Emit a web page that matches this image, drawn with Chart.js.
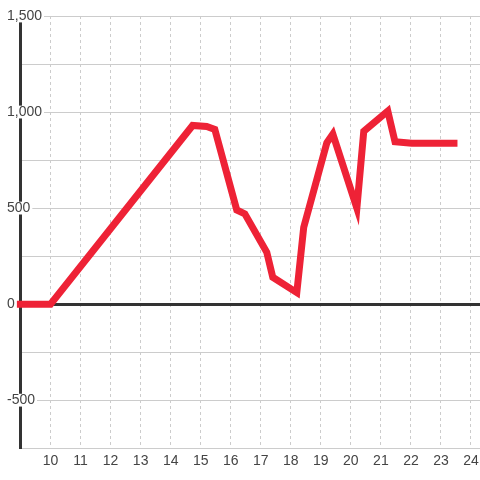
<!DOCTYPE html>
<html>
<head>
<meta charset="utf-8">
<script src="https://cdn.jsdelivr.net/npm/chart.js@4"></script>
<style>
html,body{margin:0;padding:0;background:#fff;}
canvas{display:block;}
</style>
</head>
<body>
<canvas id="c" width="480" height="480"></canvas>
<script>
const xValues = [8.88, 10, 14.73, 15.2, 15.47, 16.2, 16.47, 17.2, 17.4, 18.2, 18.43, 19.2, 19.4, 20.2, 20.43, 21.23, 21.47, 22.03, 23.55];
const yValues = [0, 0, 930, 925, 910, 490, 470, 270, 140, 60, 400, 840, 885, 500, 900, 1005, 845, 838, 838];
const xTicks = [10, 11, 12, 13, 14, 15, 16, 17, 18, 19, 20, 21, 22, 23, 24];
const yTicks = [-750, -500, -250, 0, 250, 500, 750, 1000, 1250, 1500];
const yLabelTicks = [-500, 0, 500, 1000, 1500];

const points = xValues.map((x, i) => ({x: x, y: yValues[i]}));
const labelFont = {family: '"Liberation Sans", Arial, sans-serif', size: 14};

new Chart(document.getElementById('c'), {
  type: 'line',
  data: {
    datasets: [{
      data: points,
      borderColor: '#ee2236',
      borderWidth: 7,
      pointRadius: 0,
      tension: 0,
      borderJoinStyle: 'miter',
      borderCapStyle: 'butt',
      fill: false,
      clip: false
    }]
  },
  options: {
    responsive: false,
    animation: false,
    layout: {padding: {left: 20.5, top: 16, right: 0, bottom: 5}},
    plugins: {legend: {display: false}, tooltip: {enabled: false}},
    scales: {
      x: {
        type: 'linear',
        min: 9,
        max: 24.3,
        afterBuildTicks: s => { s.ticks = xTicks.map(v => ({value: v})); },
        afterFit: s => { s.paddingLeft = 0; s.paddingRight = 0; },
        grid: {color: '#cccccc', lineWidth: 1, drawTicks: false},
        border: {display: false, dash: [3, 3]},
        ticks: {color: '#444', font: labelFont, padding: 5, maxRotation: 0, autoSkip: false}
      },
      y: {
        type: 'linear',
        min: -750,
        max: 1500,
        afterBuildTicks: s => { s.ticks = yTicks.map(v => ({value: v})); },
        afterFit: s => { s.width = 0; s.paddingTop = 0; s.paddingBottom = 0; },
        grid: {
          drawTicks: false,
          color: ctx => (ctx.tick && ctx.tick.value === 0) ? '#333333' : '#cccccc',
          lineWidth: ctx => (ctx.tick && ctx.tick.value === 0) ? 3 : 1
        },
        border: {display: true, color: '#333333', width: 3},
        ticks: {
          mirror: true,
          padding: -13.5,
          color: '#444',
          font: labelFont,
          autoSkip: false,
          showLabelBackdrop: ctx => yLabelTicks.includes(ctx.tick.value),
          backdropColor: '#ffffff',
          backdropPadding: {left: 2, right: 2, top: -2, bottom: -2},
          callback: v => yLabelTicks.includes(v) ? v.toLocaleString('en-US') : ''
        }
      }
    }
  }
});
</script>
</body>
</html>
